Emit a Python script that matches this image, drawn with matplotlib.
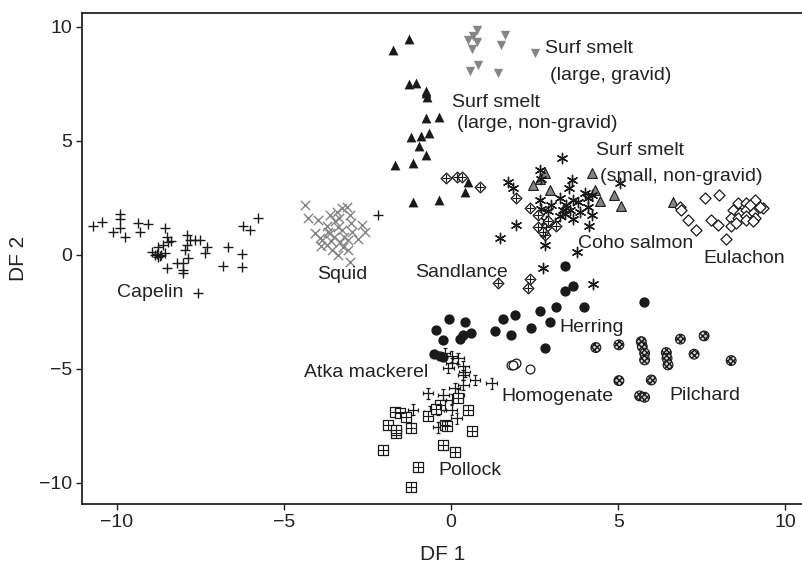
import matplotlib.pyplot as plt
import numpy as np
from matplotlib.path import Path

plt.rcParams['font.family'] = ['Liberation Sans', 'DejaVu Sans']

# ---- data (DF 1, DF 2) ----
capelin_x = [-10.71, -10.46, -9.91, -9.91, -10.11, -9.91, -9.76, -9.37, -9.32, -9.07,
             -8.57, -8.52, -8.47, -8.62, -8.77, -8.96, -8.87, -8.77, -8.67, -8.57,
             -8.52, -7.92, -7.82, -7.67, -7.52, -7.92, -7.97, -7.32, -7.37, -7.87,
             -8.02, -8.22, -8.02, -8.02, -6.67, -6.27, -6.82, -6.25, -6.22, -6.02,
             -5.78, -7.57, -2.19, -8.70, -8.80, -8.40]
capelin_y = [1.24, 1.43, 1.79, 1.56, 1.02, 1.17, 0.80, 1.39, 0.99, 1.34,
             1.19, 0.80, 0.58, 0.43, 0.33, 0.14, 0.00, -0.08, 0.00, 0.07,
             -0.59, 0.87, 0.65, 0.65, 0.65, 0.43, 0.21, 0.36, 0.07, -0.15,
             -0.37, -0.37, -0.66, -0.81, 0.33, 0.03, -0.49, -0.52, 1.24, 1.09,
             1.61, -1.68, 1.75, -0.05, 0.05, 0.60]

squid_x = [-4.38, -4.28, -3.98, -3.63, -3.43, -3.28, -3.13, -3.03, -3.48, -3.73,
           -4.08, -3.93, -3.63, -3.28, -2.98, -2.68, -2.58, -3.08, -3.33, -3.73,
           -3.58, -3.38, -3.03, -3.88, -3.23, -3.50, -3.20, -3.60, -3.00, -2.80,
           -3.40, -3.90, -3.10, -3.70, -3.35]
squid_y = [2.19, 1.61, 1.53, 1.75, 1.89, 2.04, 2.11, 1.75, 1.46, 1.24,
           0.95, 0.73, 0.95, 1.09, 1.02, 1.31, 1.02, 0.65, 0.58, 0.43,
           0.21, 0.00, -0.30, 0.65, 0.36, 0.80, 0.80, 0.60, 1.40, 0.70,
           1.20, 0.40, 0.20, 1.00, 1.60]

smelt_gravid_x = [0.76, 0.51, 0.76, 0.61, 1.60, 1.50, 2.50, 0.80, 0.56, 1.40, 0.65]
smelt_gravid_y = [9.86, 9.43, 9.35, 9.02, 9.65, 9.21, 8.87, 8.33, 8.07, 7.96, 9.60]

smelt_large_x = [-1.26, -1.74, -1.26, -1.04, -0.74, -0.72, -0.74, -0.36, -1.19, -0.89,
                 -0.66, -0.97, -0.74, -1.69, -1.14, 0.51, 0.41, -1.14, -0.36, -0.76]
smelt_large_y = [9.47, 8.96, 7.50, 7.53, 7.11, 6.91, 5.99, 6.04, 5.18, 5.21,
                 5.33, 4.75, 4.38, 3.94, 4.02, 3.21, 2.77, 2.33, 2.41, 7.20]

smelt_small_x = [2.80, 2.65, 2.45, 2.95, 4.20, 4.30, 4.45, 4.87, 5.09, 6.64]
smelt_small_y = [3.58, 3.32, 3.07, 2.85, 3.58, 2.82, 2.38, 2.60, 2.14, 2.33]

coho_x = [3.33, 2.65, 2.70, 1.70, 1.85, 3.63, 3.53, 3.25, 3.65, 3.45,
          4.00, 4.10, 4.20, 2.65, 2.70, 3.35, 3.55, 3.85, 4.10, 4.20,
          3.25, 3.65, 2.85, 4.12, 1.95, 1.45, 2.80, 3.77, 2.75, 5.04,
          4.24, 3.00, 3.40, 3.10, 3.80, 2.90]
coho_y = [4.24, 3.72, 3.32, 3.21, 2.92, 3.29, 2.92, 2.48, 2.41, 2.19,
          2.70, 2.48, 2.63, 2.41, 2.00, 1.97, 1.97, 1.89, 2.11, 1.75,
          1.68, 1.56, 1.46, 1.24, 1.31, 0.73, 0.43, 0.10, -0.59, 3.14,
          -1.29, 2.20, 1.80, 1.40, 2.30, 1.90]

sandlance_x = [-0.14, 0.16, 0.31, 0.86, 1.95, 2.35, 2.60, 2.60, 2.85, 3.15,
               2.80, 1.40, 2.35, 2.30, 2.75, 2.90]
sandlance_y = [3.36, 3.39, 3.39, 2.99, 2.51, 2.04, 1.75, 1.21, 1.21, 1.28,
               0.87, -1.25, -1.07, -1.46, 1.00, 1.50]

eulachon_x = [6.84, 6.89, 7.09, 7.34, 7.59, 8.03, 7.79, 7.98, 8.24, 8.58,
              8.83, 9.08, 9.33, 8.43, 8.63, 8.83, 9.03, 8.38, 8.58, 8.83,
              9.08, 8.38, 8.53, 8.83, 9.03, 9.23, 8.93]
eulachon_y = [2.11, 1.97, 1.53, 1.09, 2.48, 2.63, 1.53, 1.31, 0.68, 2.26,
              2.26, 2.41, 2.04, 1.97, 1.82, 1.97, 1.82, 1.61, 1.61, 1.68,
              1.61, 1.24, 1.39, 1.53, 1.46, 2.11, 2.19]

herring_x = [3.40, 3.65, 3.40, 3.97, 3.13, 2.65, 2.95, 2.40, 1.90, 1.55,
             1.30, 1.80, 2.80, -0.06, 0.41, -0.44, -0.24, 0.26, 0.36, 0.58,
             -0.52, -0.34, -0.24, 5.76]
herring_y = [-0.49, -1.39, -1.57, -2.27, -2.30, -2.45, -2.93, -3.22, -2.64, -2.81,
             -3.34, -3.51, -4.10, -2.82, -2.96, -3.32, -3.73, -3.70, -3.51, -3.41,
             -4.35, -4.43, -4.49, -2.05]

homog_x = [1.80, 1.90, 1.95, 2.35, 1.85]
homog_y = [-4.83, -4.80, -4.75, -5.02, -4.85]

pilchard_x = [4.33, 5.02, 5.69, 5.72, 5.79, 5.79, 6.44, 6.46, 6.49, 6.86,
              7.57, 7.27, 8.38, 5.02, 5.99, 5.64, 5.79]
pilchard_y = [-4.07, -3.95, -3.81, -4.03, -4.32, -4.61, -4.29, -4.54, -4.83, -3.70,
              -3.56, -4.36, -4.64, -5.52, -5.49, -6.19, -6.25]

atka_x = [-0.19, 0.21, 0.01, -0.09, 0.36, 0.41, 0.71, 1.21, 0.36, 0.11,
          0.21, -0.24, -0.69, 0.01, -1.14, -0.39, 0.01, 0.16, -0.39, -0.64,
          0.01, 0.36]
atka_y = [-4.32, -4.54, -4.75, -4.97, -4.90, -5.12, -5.49, -5.63, -5.71, -5.85,
          -6.14, -6.14, -6.07, -6.36, -6.80, -6.80, -6.80, -7.17, -7.56, -6.88,
          -4.46, -5.27]

pollock_x = [-0.34, 0.21, 0.51, -0.69, -0.44, -1.69, -1.54, -1.34, -1.89, -1.64,
             -1.64, -1.19, -0.19, -0.12, 0.61, -0.24, 0.11, -2.04, -0.99, -1.21]
pollock_y = [-6.58, -6.29, -6.80, -7.07, -6.77, -6.88, -6.95, -7.10, -7.46, -7.82,
             -7.68, -7.61, -7.46, -7.50, -7.75, -8.34, -8.63, -8.56, -9.29, -10.18]

# group labels: (text, x, y, ha)
labels = [
    ('Surf smelt', 2.80, 8.84, 'left'),
    ('(large, gravid)', 2.95, 7.67, 'left'),
    ('Surf smelt', 0.01, 6.50, 'left'),
    ('(large, non-gravid)', 0.18, 5.57, 'left'),
    ('Surf smelt', 4.33, 4.38, 'left'),
    ('(small, non-gravid)', 4.45, 3.24, 'left'),
    ('Coho salmon', 3.80, 0.29, 'left'),
    ('Eulachon', 7.54, -0.37, 'left'),
    ('Sandlance', -1.09, -0.97, 'left'),
    ('Herring', 3.25, -3.37, 'left'),
    ('Capelin', -9.99, -1.86, 'left'),
    ('Squid', -4.00, -1.07, 'left'),
    ('Atka mackerel', -0.69, -5.34, 'right'),
    ('Homogenate', 1.50, -6.41, 'left'),
    ('Pilchard', 6.52, -6.36, 'left'),
    ('Pollock', -0.37, -9.68, 'left'),
]

# plus with end caps (Atka mackerel)
c = 0.35
atka_marker = Path(
    [(-1, 0), (1, 0), (0, -1), (0, 1),
     (-1, -c), (-1, c), (1, -c), (1, c),
     (-c, -1), (c, -1), (-c, 1), (c, 1)],
    [Path.MOVETO, Path.LINETO] * 6)

fig = plt.figure(figsize=(8.03, 5.74), dpi=100)
ax = fig.add_axes([0.1025, 0.122, 0.8975, 0.856])

k = '#1a1a1a'
g = '#858585'

ax.scatter(capelin_x, capelin_y, marker='+', s=45, c=k, linewidths=1.0)
ax.scatter(squid_x, squid_y, marker='x', s=45, c=g, linewidths=1.0)
ax.scatter(smelt_gravid_x, smelt_gravid_y, marker='v', s=45, c=g, linewidths=0)
ax.scatter(smelt_large_x, smelt_large_y, marker='^', s=50, c=k, linewidths=0)
ax.scatter(smelt_small_x, smelt_small_y, marker='^', s=50, c=g, edgecolors=k,
           linewidths=0.8)
ax.scatter(coho_x, coho_y, marker=(6, 2, 0), s=55, c=k, linewidths=1.0)
ax.scatter(sandlance_x, sandlance_y, marker='D', s=30, facecolors='white',
           edgecolors=k, linewidths=0.9)
ax.scatter(sandlance_x, sandlance_y, marker='+', s=30, c=k, linewidths=0.8)
ax.scatter(eulachon_x, eulachon_y, marker='D', s=32, facecolors='white',
           edgecolors=k, linewidths=0.9)
ax.scatter(herring_x, herring_y, marker='o', s=55, c=k, linewidths=0)
ax.scatter(homog_x, homog_y, marker='o', s=40, facecolors='white',
           edgecolors=k, linewidths=0.9)
ax.scatter(pilchard_x, pilchard_y, marker='o', s=50, facecolors='#d0d0d0',
           edgecolors=k, linewidths=0.8, hatch='xxxxxx')
ax.scatter(atka_x, atka_y, marker=atka_marker, s=60, facecolors='none',
           edgecolors=k, linewidths=0.9)
ax.scatter(pollock_x, pollock_y, marker='s', s=45, facecolors='white',
           edgecolors=k, linewidths=0.9)
ax.scatter(pollock_x, pollock_y, marker='+', s=45, c=k, linewidths=0.8)

for txt, x, y, ha in labels:
    ax.text(x, y, txt, ha=ha, va='baseline', fontsize=14, color='#222222')

ax.set_xlim(-11.04, 10.53)
ax.set_ylim(-10.93, 10.62)
ax.set_xticks([-10, -5, 0, 5, 10])
ax.set_yticks([-10, -5, 0, 5, 10])
ax.set_xticklabels(['\u221210', '\u22125', '0', '5', '10'])
ax.set_yticklabels(['\u221210', '\u22125', '0', '5', '10'])
ax.tick_params(direction='out', length=4, width=1, labelsize=14,
               colors='#222222')
for side in ['left', 'bottom', 'top']:
    ax.spines[side].set_linewidth(1.3)
    ax.spines[side].set_color('#222222')
ax.spines['right'].set_visible(False)

ax.set_xlabel('DF 1', fontsize=15, color='#222222', labelpad=10)
ax.set_ylabel('DF 2', fontsize=15, color='#222222', labelpad=8)

fig.savefig('out.png', dpi=100)
